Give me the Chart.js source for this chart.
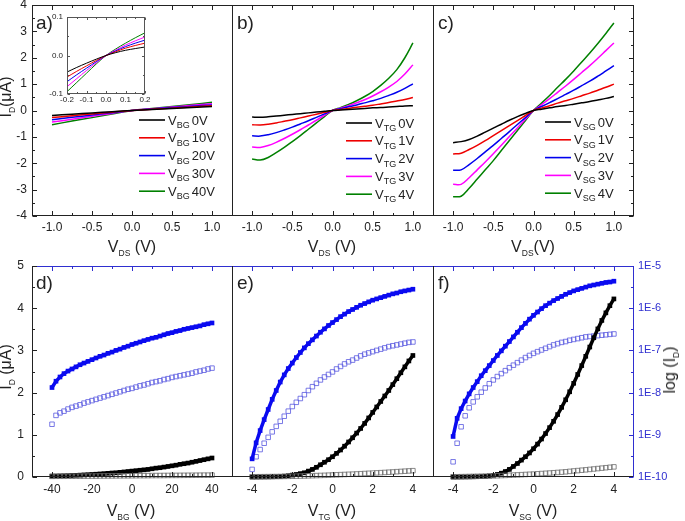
<!DOCTYPE html>
<html><head><meta charset="utf-8">
<script src="https://cdn.jsdelivr.net/npm/chart.js@4.4.1/dist/chart.umd.min.js"></script>
<style>
html,body{margin:0;padding:0;background:#fff;}
body{width:685px;height:521px;overflow:hidden;position:relative;font-family:"Liberation Sans",Arial,sans-serif;color:#222;}
canvas{position:absolute;left:0;top:0;}
.lab{position:absolute;font-size:19px;line-height:19px;white-space:nowrap;}
.ttl{position:absolute;font-size:16px;line-height:16px;white-space:nowrap;transform:translateX(-50%);}
.rot{position:absolute;font-size:16px;line-height:16px;white-space:nowrap;transform:translate(-50%,-50%) rotate(-90deg);}
.s{font-size:8.5px;position:relative;top:3.7px;}
</style></head><body>

<script>
// ---------- DATA ----------
// top row x (V_DS)
const aX = [-1,-0.75,-0.5,-0.25,0,0.25,0.5,0.75,1];
const bcX = [-1,-0.9,-0.8,-0.7,-0.6,-0.5,-0.4,-0.3,-0.2,-0.1,0,0.1,0.2,0.3,0.4,0.5,0.6,0.7,0.8,0.9,1];
const insetX = [-0.2,-0.15,-0.1,-0.05,0,0.05,0.1,0.15,0.2];

// panel a (I_D in uA), V_BG 0..40 V
const a0 = [-0.19,-0.14,-0.095,-0.045,0,0.04,0.08,0.115,0.15];
const a10 = [-0.27,-0.20,-0.13,-0.065,0,0.045,0.09,0.135,0.18];
const a20 = [-0.35,-0.26,-0.17,-0.085,0,0.055,0.11,0.16,0.21];
const a30 = [-0.44,-0.33,-0.22,-0.11,0,0.065,0.13,0.195,0.26];
const a40 = [-0.54,-0.40,-0.27,-0.135,0,0.08,0.155,0.23,0.31];
// inset of panel a
const i0 = [-0.043,-0.031,-0.020,-0.0095,0,0.0075,0.0135,0.018,0.022];
const i10 = [-0.056,-0.041,-0.027,-0.013,0,0.010,0.019,0.026,0.032];
const i20 = [-0.068,-0.050,-0.033,-0.016,0,0.012,0.023,0.032,0.040];
const i30 = [-0.081,-0.060,-0.039,-0.019,0,0.014,0.027,0.038,0.048];
const i40 = [-0.094,-0.070,-0.046,-0.022,0,0.017,0.032,0.046,0.059];

// panel b, V_TG 0..4 V
const b0 = [-0.25,-0.26,-0.24,-0.21,-0.18,-0.15,-0.12,-0.09,-0.06,-0.03,0,0.02,0.04,0.06,0.08,0.10,0.11,0.13,0.15,0.17,0.18];
const b1 = [-0.54,-0.55,-0.52,-0.47,-0.41,-0.35,-0.28,-0.21,-0.14,-0.07,0,0.04,0.08,0.12,0.16,0.20,0.25,0.30,0.36,0.42,0.49];
const b2 = [-0.96,-0.97,-0.92,-0.84,-0.74,-0.63,-0.51,-0.39,-0.26,-0.13,0,0.07,0.14,0.21,0.29,0.37,0.46,0.57,0.69,0.84,1.01];
const b3 = [-1.38,-1.40,-1.33,-1.21,-1.06,-0.90,-0.73,-0.55,-0.37,-0.18,0,0.09,0.18,0.29,0.41,0.55,0.71,0.89,1.10,1.38,1.73];
const b4 = [-1.84,-1.88,-1.78,-1.60,-1.40,-1.18,-0.95,-0.71,-0.47,-0.23,0,0.11,0.23,0.37,0.53,0.72,0.95,1.22,1.55,2.00,2.56];

// panel c, V_SG 0..4 V
const c0 = [-1.22,-1.18,-1.10,-0.97,-0.82,-0.67,-0.52,-0.37,-0.23,-0.11,0,0.05,0.10,0.15,0.19,0.24,0.29,0.34,0.40,0.46,0.53];
const c1 = [-1.65,-1.62,-1.48,-1.32,-1.14,-0.95,-0.76,-0.57,-0.38,-0.19,0,0.09,0.18,0.28,0.37,0.46,0.56,0.66,0.77,0.88,1.00];
const c2 = [-2.27,-2.25,-2.05,-1.82,-1.57,-1.32,-1.06,-0.80,-0.53,-0.27,0,0.15,0.30,0.45,0.61,0.77,0.94,1.11,1.30,1.50,1.70];
const c3 = [-2.80,-2.80,-2.55,-2.25,-1.95,-1.64,-1.32,-0.99,-0.66,-0.33,0,0.22,0.45,0.69,0.93,1.18,1.44,1.70,1.98,2.27,2.56];
const c4 = [-3.27,-3.25,-2.95,-2.60,-2.25,-1.90,-1.52,-1.14,-0.76,-0.38,0,0.28,0.57,0.88,1.18,1.50,1.84,2.18,2.54,2.92,3.32];

// bottom row x
const dX = [-40,-38,-36,-34,-32,-30,-28,-26,-24,-22,-20,-18,-16,-14,-12,-10,-8,-6,-4,-2,0,2,4,6,8,10,12,14,16,18,20,22,24,26,28,30,32,34,36,38,40];
const gX = [-4,-3.8,-3.6,-3.4,-3.2,-3,-2.8,-2.6,-2.4,-2.2,-2,-1.8,-1.6,-1.4,-1.2,-1,-0.8,-0.6,-0.4,-0.2,0,0.2,0.4,0.6,0.8,1,1.2,1.4,1.6,1.8,2,2.2,2.4,2.6,2.8,3,3.2,3.4,3.6,3.8,4];

// panel d: I_D (uA) filled / open, log10(I_D) filled / open
const dLin = [0.020,0.022,0.025,0.028,0.031,0.035,0.040,0.044,0.050,0.055,0.060,0.066,0.073,0.080,0.087,0.095,0.100,0.110,0.120,0.130,0.140,0.150,0.160,0.170,0.180,0.195,0.210,0.220,0.235,0.250,0.265,0.280,0.300,0.315,0.330,0.350,0.370,0.390,0.410,0.430,0.450];
const dLinOpen = [0.015,0.016,0.017,0.017,0.018,0.019,0.020,0.020,0.021,0.022,0.023,0.023,0.024,0.025,0.026,0.026,0.027,0.028,0.029,0.029,0.030,0.031,0.032,0.032,0.033,0.034,0.035,0.035,0.036,0.037,0.038,0.038,0.039,0.040,0.041,0.041,0.042,0.043,0.044,0.044,0.045];
const dLog = [-7.88,-7.73,-7.63,-7.55,-7.49,-7.44,-7.39,-7.34,-7.30,-7.26,-7.22,-7.18,-7.14,-7.11,-7.07,-7.04,-7.00,-6.97,-6.93,-6.90,-6.86,-6.83,-6.80,-6.77,-6.74,-6.71,-6.69,-6.66,-6.63,-6.60,-6.58,-6.55,-6.53,-6.50,-6.48,-6.46,-6.44,-6.42,-6.39,-6.37,-6.35];
const dLogOpen = [-8.75,-8.54,-8.48,-8.44,-8.39,-8.35,-8.32,-8.29,-8.25,-8.22,-8.19,-8.16,-8.13,-8.10,-8.07,-8.04,-8.01,-7.98,-7.95,-7.92,-7.90,-7.87,-7.84,-7.82,-7.79,-7.76,-7.74,-7.72,-7.69,-7.67,-7.64,-7.62,-7.60,-7.58,-7.56,-7.54,-7.51,-7.49,-7.47,-7.44,-7.42];

// panel e
const eLin = [0,0,0.001,0.002,0.003,0.005,0.008,0.012,0.020,0.030,0.045,0.060,0.080,0.100,0.140,0.180,0.230,0.290,0.350,0.410,0.480,0.560,0.640,0.730,0.830,0.930,1.040,1.150,1.270,1.400,1.530,1.660,1.790,1.920,2.050,2.190,2.330,2.470,2.610,2.750,2.880];
const eLinOpen = [0.005,0.006,0.007,0.008,0.009,0.010,0.011,0.012,0.014,0.016,0.018,0.020,0.022,0.025,0.028,0.031,0.034,0.037,0.040,0.044,0.048,0.052,0.056,0.060,0.064,0.068,0.073,0.078,0.083,0.088,0.093,0.098,0.103,0.108,0.114,0.120,0.126,0.132,0.138,0.144,0.150];
const eLog = [-9.57,-9.19,-8.90,-8.64,-8.40,-8.16,-7.95,-7.75,-7.58,-7.43,-7.30,-7.17,-7.05,-6.94,-6.84,-6.75,-6.66,-6.57,-6.49,-6.41,-6.34,-6.27,-6.20,-6.14,-6.08,-6.03,-5.98,-5.93,-5.89,-5.85,-5.81,-5.78,-5.75,-5.72,-5.69,-5.66,-5.64,-5.61,-5.59,-5.57,-5.55];
const eLogOpen = [-9.82,-9.52,-9.35,-9.20,-9.06,-8.93,-8.80,-8.68,-8.56,-8.44,-8.33,-8.23,-8.14,-8.05,-7.95,-7.86,-7.78,-7.70,-7.63,-7.57,-7.51,-7.44,-7.38,-7.32,-7.27,-7.23,-7.18,-7.13,-7.09,-7.06,-7.03,-7.00,-6.97,-6.94,-6.91,-6.89,-6.87,-6.85,-6.83,-6.81,-6.80];

// panel f
const fLin = [0,0,0.001,0.002,0.003,0.005,0.007,0.010,0.015,0.025,0.040,0.060,0.090,0.130,0.180,0.250,0.320,0.400,0.480,0.570,0.670,0.780,0.900,1.030,1.170,1.320,1.480,1.650,1.830,2.020,2.220,2.430,2.640,2.860,3.080,3.300,3.510,3.710,3.890,4.060,4.220];
const fLinOpen = [0.005,0.006,0.008,0.010,0.012,0.014,0.016,0.018,0.021,0.024,0.027,0.030,0.034,0.038,0.042,0.046,0.050,0.055,0.060,0.065,0.070,0.076,0.082,0.088,0.094,0.101,0.108,0.115,0.123,0.133,0.143,0.152,0.161,0.170,0.180,0.190,0.200,0.210,0.220,0.230,0.240];
const fLog = [-9.04,-8.61,-8.38,-8.20,-8.03,-7.88,-7.74,-7.60,-7.48,-7.36,-7.24,-7.12,-7.01,-6.90,-6.79,-6.68,-6.57,-6.46,-6.36,-6.26,-6.17,-6.09,-6.01,-5.94,-5.88,-5.82,-5.77,-5.72,-5.67,-5.63,-5.59,-5.56,-5.53,-5.50,-5.47,-5.45,-5.43,-5.41,-5.39,-5.38,-5.36];
const fLogOpen = [-9.64,-9.20,-8.81,-8.55,-8.36,-8.22,-8.10,-7.99,-7.89,-7.79,-7.70,-7.62,-7.55,-7.48,-7.41,-7.35,-7.29,-7.23,-7.17,-7.12,-7.07,-7.03,-6.99,-6.95,-6.91,-6.87,-6.84,-6.81,-6.79,-6.76,-6.74,-6.72,-6.70,-6.68,-6.67,-6.66,-6.65,-6.64,-6.63,-6.62,-6.61];

// ticks and labels
const topXTicks = [-1,-0.5,0,0.5,1];
const topXLabels = ['-1.0','-0.5','0.0','0.5','1.0'];
const topXMinor = [-0.75,-0.25,0.25,0.75];
const topYTicks = [-4,-3,-2,-1,0,1,2,3,4];
const topYLabels = ['-4','-3','-2','-1','0','1','2','3','4'];
const topYMinor = [-3.5,-2.5,-1.5,-0.5,0.5,1.5,2.5,3.5];
const insetXTicks = [-0.2,-0.1,0,0.1,0.2];
const insetXLabels = ['-0.2','-0.1','0.0','0.1','0.2'];
const insetXMinor = [-0.15,-0.05,0.05,0.15];
const insetYTicks = [-0.1,0,0.1];
const insetYLabels = ['-0.1','0.0','0.1'];
const insetYMinor = [-0.05,0.05];
const dXTicks = [-40,-20,0,20,40];
const dXLabels = ['-40','-20','0','20','40'];
const dXMinor = [-30,-10,10,30];
const gXTicks = [-4,-2,0,2,4];
const gXLabels = ['-4','-2','0','2','4'];
const gXMinor = [-3,-1,1,3];
const botYTicks = [0,1,2,3,4,5];
const botYLabels = ['0','1','2','3','4','5'];
const botYMinor = [0.5,1.5,2.5,3.5,4.5];
const logTicks = [-10,-9,-8,-7,-6,-5];
const logLabels = ['1E-10','1E-9','1E-8','1E-7','1E-6','1E-5'];
const logMinor = [-9.5,-8.5,-7.5,-6.5,-5.5];

const legendA = ['0V','10V','20V','30V','40V'];
const legendB = ['0V','1V','2V','3V','4V'];
const legendC = ['0V','1V','2V','3V','4V'];

// ---------- STYLE / HELPERS ----------
const LC = ['#000000','#ee0000','#0000ee','#ff00ff','#008000'];
const FONT = '"Liberation Sans", Arial, sans-serif';
Chart.defaults.font.family = FONT;
Chart.defaults.color = '#222';
Chart.defaults.animation = false;
Chart.defaults.events = [];
Chart.defaults.plugins.legend.display = false;
Chart.defaults.plugins.tooltip.enabled = false;

const zip = (xs, ys) => xs.map((x, i) => ({x, y: ys[i]}));

const framePlugin = {
  id: 'frame',
  beforeDatasetsDraw(chart, args, o) {
    if (o && o.bg) {
      const c = chart.chartArea, ctx = chart.ctx;
      ctx.save(); ctx.fillStyle = o.bg; ctx.fillRect(c.left, c.top, c.right - c.left, c.bottom - c.top); ctx.restore();
    }
  },
  afterDatasetsDraw(chart, args, o) {
    if (!o || !o.on) return;
    const ctx = chart.ctx, c = chart.chartArea, xs = chart.scales.x, ys = chart.scales.y;
    const L = c.left + 0.5, R = c.right - 0.5, T = c.top + 0.5, B = c.bottom - 0.5;
    const M = o.majorLen || 4.5, m = o.minorLen || 2.5;
    ctx.save();
    ctx.lineWidth = o.lw || 1;
    const seg = (x1, y1, x2, y2, col) => { ctx.strokeStyle = col; ctx.beginPath(); ctx.moveTo(x1, y1); ctx.lineTo(x2, y2); ctx.stroke(); };
    const col = o.color || '#222', tcol = o.topColor || col, rcol = o.rightColor || col;
    seg(c.left, B, c.right, B, col);
    seg(c.left, T, c.right, T, tcol);
    if (o.left) seg(L, c.top, L, c.bottom, col);
    if (o.right) seg(R, c.top, R, c.bottom, rcol);
    const px = v => Math.round(xs.getPixelForValue(v)) + 0.5;
    (o.xMajor || []).forEach(v => { const x = px(v); seg(x, B, x, B - M, col); seg(x, T, x, T + M, tcol); });
    (o.xMinor || []).forEach(v => { const x = px(v); seg(x, B, x, B - m, col); seg(x, T, x, T + m, tcol); });
    if (o.leftTicks) {
      const py = v => Math.round(ys.getPixelForValue(v)) + 0.5;
      (o.yMajor || []).forEach(v => { const y = py(v); seg(L, y, L + M, y, col); });
      (o.yMinor || []).forEach(v => { const y = py(v); seg(L, y, L + m, y, col); });
    }
    if (o.rightTicks) {
      const rs = chart.scales[o.rightScale || 'y'];
      const py = v => Math.round(rs.getPixelForValue(v)) + 0.5;
      (o.rMajor || []).forEach(v => { const y = py(v); seg(R, y, R - M, y, rcol); });
      (o.rMinor || []).forEach(v => { const y = py(v); seg(R, y, R - m, y, rcol); });
    }
    ctx.restore();
  }
};

const legendPlugin = {
  id: 'sublegend',
  afterDatasetsDraw(chart, args, o) {
    if (!o || !o.vals) return;
    const ctx = chart.ctx, c = chart.chartArea;
    ctx.save();
    o.vals.forEach((val, i) => {
      const y = c.top + o.dy + i * o.gap;
      const x0 = c.left + o.dx;
      ctx.strokeStyle = LC[i]; ctx.lineWidth = 1.6;
      ctx.beginPath(); ctx.moveTo(x0, y); ctx.lineTo(x0 + 26, y); ctx.stroke();
      let x = x0 + 29;
      ctx.fillStyle = '#222'; ctx.textBaseline = 'alphabetic'; ctx.textAlign = 'left';
      ctx.font = '13px ' + FONT; ctx.fillText('V', x, y + 4.5); x += ctx.measureText('V').width;
      ctx.font = '9px ' + FONT; ctx.fillText(o.sub, x, y + 8); x += ctx.measureText(o.sub).width + 2;
      ctx.font = '13px ' + FONT; ctx.fillText(val, x, y + 4.5);
    });
    ctx.restore();
  }
};
Chart.register(framePlugin, legendPlugin);

function xScale(min, max, ticks, labels, pad, h, fs) {
  return {
    type: 'linear', position: 'bottom', min, max,
    grid: {display: false, drawTicks: false}, border: {display: false},
    afterBuildTicks: s => { s.ticks = ticks.map(v => ({value: v})); },
    ticks: {padding: pad, maxRotation: 0, autoSkip: false, font: {size: fs || 12}, color: '#222',
      callback: (v, i) => labels[i]},
    afterFit: s => { s.height = h; s.paddingLeft = 0; s.paddingRight = 0; s.paddingTop = 0; s.paddingBottom = 0; }
  };
}
function yScale(min, max, ticks, labels, show, w, pad, pos, fs, color) {
  return {
    type: 'linear', position: pos || 'left', min, max, display: show,
    grid: {display: false, drawTicks: false}, border: {display: false},
    afterBuildTicks: s => { s.ticks = ticks.map(v => ({value: v})); },
    ticks: {padding: pad, autoSkip: false, font: {size: fs || 12}, color: color || '#222',
      callback: (v, i) => labels[i]},
    afterFit: s => { s.width = show ? w : 0; s.paddingTop = 0; s.paddingBottom = 0; s.paddingLeft = 0; s.paddingRight = 0; }
  };
}
function canvas() {
  const cv = document.createElement('canvas');
  cv.width = 685; cv.height = 521;
  cv.style.width = '685px'; cv.style.height = '521px';
  document.body.appendChild(cv);
  return cv;
}
function lineSets(xs, arrs, w) {
  return arrs.map((ys, i) => ({data: zip(xs, ys), showLine: true, borderColor: LC[i], borderWidth: w,
    pointRadius: 0, tension: 0.35, fill: false}));
}
const baseOpts = {responsive: false, maintainAspectRatio: false, devicePixelRatio: 1, animation: false};

function topPanel(padL, padR, showY, xs, arrs, legendVals, sub, lg, frameExtra) {
  return new Chart(canvas(), {
    type: 'scatter',
    data: {datasets: lineSets(xs, arrs, 1.5)},
    options: Object.assign({}, baseOpts, {
      layout: {padding: {left: padL, right: padR, top: 5, bottom: 261}},
      scales: {
        x: xScale(-1.25, 1.25, topXTicks, topXLabels, 4, 44),
        y: yScale(-4, 4, topYTicks, topYLabels, showY, 32, 5)
      },
      plugins: {
        frame: Object.assign({on: true, color: '#222', left: true, xMajor: topXTicks, xMinor: topXMinor,
          yMajor: topYTicks, yMinor: topYMinor}, frameExtra),
        sublegend: {vals: legendVals, sub: sub, dx: lg[0], dy: lg[1], gap: 17.8}
      }
    })
  });
}

// ---- top row ----
topPanel(0, 453, true, aX, [a0, a10, a20, a30, a40], legendA, 'BG', [107, 115], {leftTicks: true});
topPanel(232, 252, false, bcX, [b0, b1, b2, b3, b4], legendB, 'TG', [114, 118], {});
topPanel(433, 51, false, bcX, [c0, c1, c2, c3, c4], legendC, 'SG', [112, 117],
  {right: true, rightTicks: true, rightScale: 'y', rMajor: topYTicks, rMinor: topYMinor});

// ---- inset ----
new Chart(canvas(), {
  type: 'scatter',
  data: {datasets: lineSets(insetX, [i0, i10, i20, i30, i40], 1)},
  options: Object.assign({}, baseOpts, {
    layout: {padding: {left: 0, right: 540, top: 17, bottom: 407}},
    scales: {
      x: xScale(-0.2, 0.2, insetXTicks, insetXLabels, 1, 20, 8),
      y: yScale(-0.1, 0.1, insetYTicks, insetYLabels, true, 67, 4, 'left', 8)
    },
    plugins: {
      frame: {on: true, bg: '#ffffff', color: '#555', left: true, right: true, leftTicks: true, rightTicks: true,
        rightScale: 'y', majorLen: 2.5, minorLen: 1.5, xMajor: insetXTicks, xMinor: insetXMinor,
        yMajor: insetYTicks, yMinor: insetYMinor, rMajor: insetYTicks, rMinor: insetYMinor}
    }
  })
});

// ---- bottom row ----
const BLUE = '#0a0af0', BLUE_OPEN = '#5858e0', GRAY_OPEN = '#6c6c6c', AXBLUE = '#2f2fd0';
function markerSets(xs, lin, linOpen, lg, lgOpen) {
  return [
    {data: zip(xs, linOpen), yAxisID: 'y', pointStyle: 'rect', pointRadius: 3.2, pointBorderWidth: 0.8,
      pointBorderColor: GRAY_OPEN, pointBackgroundColor: 'rgba(255,255,255,0)', showLine: false},
    {data: zip(xs, lin), yAxisID: 'y', pointStyle: 'rect', pointRadius: 3.3, pointBorderWidth: 0,
      pointBackgroundColor: '#000', pointBorderColor: '#000', showLine: true, borderColor: '#000', borderWidth: 3.5},
    {data: zip(xs, lg), yAxisID: 'y2', pointStyle: 'rect', pointRadius: 3.3, pointBorderWidth: 0,
      pointBackgroundColor: BLUE, pointBorderColor: BLUE, showLine: true, borderColor: BLUE, borderWidth: 3.5},
    {data: zip(xs, lgOpen), yAxisID: 'y2', pointStyle: 'rect', pointRadius: 3.2, pointBorderWidth: 0.8,
      pointBorderColor: BLUE_OPEN, pointBackgroundColor: 'rgba(255,255,255,0)', showLine: false}
  ];
}
function botPanel(padL, padR, showY, showR, xmin, xmax, xt, xl, xm, xs, sets, frameExtra) {
  return new Chart(canvas(), {
    type: 'scatter',
    data: {datasets: markerSets(xs, ...sets)},
    options: Object.assign({}, baseOpts, {
      clip: false,
      layout: {padding: {left: padL, right: padR, top: 266, bottom: 0}},
      scales: {
        x: xScale(xmin, xmax, xt, xl, 5, 44),
        y: yScale(0, 5, botYTicks, botYLabels, showY, 32, 8),
        y2: yScale(-10, -5, logTicks, logLabels, showR, 51, 4, 'right', 11, AXBLUE)
      },
      plugins: {
        frame: Object.assign({on: true, color: '#222', topColor: AXBLUE, left: true, xMajor: xt, xMinor: xm,
          yMajor: botYTicks, yMinor: botYMinor}, frameExtra)
      }
    })
  });
}
botPanel(0, 453, true, false, -50, 50, dXTicks, dXLabels, dXMinor, dX, [dLin, dLinOpen, dLog, dLogOpen], {leftTicks: true});
botPanel(232, 252, false, false, -5, 5, gXTicks, gXLabels, gXMinor, gX, [eLin, eLinOpen, eLog, eLogOpen], {});
botPanel(433, 0, false, true, -5, 5, gXTicks, gXLabels, gXMinor, gX, [fLin, fLinOpen, fLog, fLogOpen],
  {right: true, rightColor: AXBLUE, rightTicks: true, rightScale: 'y2', rMajor: logTicks, rMinor: logMinor});
</script>

<div class="lab" style="left:36px;top:13px">a)</div>
<div class="lab" style="left:237px;top:13px">b)</div>
<div class="lab" style="left:438px;top:13px">c)</div>
<div class="lab" style="left:36px;top:273px">d)</div>
<div class="lab" style="left:237px;top:273px">e)</div>
<div class="lab" style="left:438px;top:273px">f)</div>

<div class="ttl" style="left:132px;top:239px">V<span class="s">DS</span> (V)</div>
<div class="ttl" style="left:332px;top:239px">V<span class="s">DS</span> (V)</div>
<div class="ttl" style="left:533px;top:239px">V<span class="s">DS</span>(V)</div>
<div class="ttl" style="left:131px;top:503px">V<span class="s">BG</span> (V)</div>
<div class="ttl" style="left:332px;top:503px">V<span class="s">TG</span> (V)</div>
<div class="ttl" style="left:533px;top:503px">V<span class="s">SG</span> (V)</div>

<div class="rot" style="left:7px;top:97px">I<span class="s">D</span>(μA)</div>
<div class="rot" style="left:7px;top:367px">I<span class="s">D</span> (μA)</div>
<div class="rot" style="left:671px;top:370px">log (I<span class="s">D</span>)</div>
</body></html>
